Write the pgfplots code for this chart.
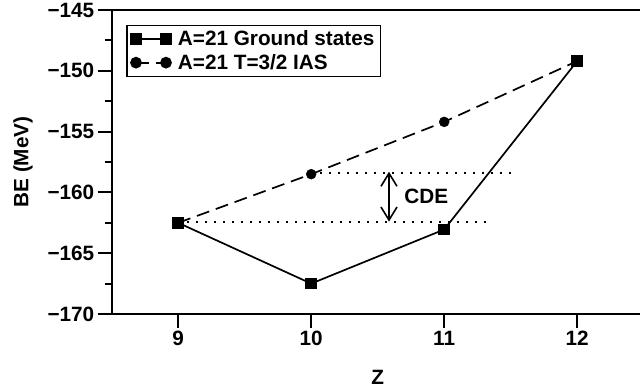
\documentclass[border=0pt]{standalone}
\usepackage{fontspec}
\setmainfont{Liberation Sans}
\usepackage{pgfplots}
\pgfplotsset{compat=1.18}
\usetikzlibrary{arrows.meta}
\newcommand{\bigf}{\bfseries\fontsize{20.8}{23}\selectfont}
\begin{document}
\begin{tikzpicture}
\begin{axis}[
  scale only axis, width=532bp, height=304bp,
  xmin=8.5, xmax=12.5, ymin=-170, ymax=-145,
  axis lines=left, axis line style={-, line width=2bp, black},
  clip=false,
  tick align=outside,
  major tick length=14bp, minor tick length=7bp,
  tick style={line width=2bp, black},
  xtick={9,10,11,12},
  xticklabels={9,10,11,12},
  ytick={-170,-165,-160,-155,-150,-145},
  yticklabels={−170,−165,−160,−155,−150,−145},
  minor y tick num=1,
  tick label style={font=\bigf},
  label style={font=\bigf},
  xlabel={Z}, ylabel={BE (MeV)},
  xlabel style={yshift=-17bp},
  ylabel style={yshift=8bp},
  legend style={at={(axis cs:8.609,-146.2)}, anchor=north west,
    draw=black, line width=1.6bp, font=\bigf,
    inner xsep=4bp, inner ysep=4bp, row sep=4bp, column sep=5bp,
    nodes={inner xsep=2bp, inner ysep=1.5bp}},
  legend cell align=left,
  legend image code/.code={\draw[mark repeat=1, mark phase=1, #1] plot coordinates {(0bp,0bp) (30bp,0bp)};},
]
% ground states
\addplot[black, line width=1.7bp, mark=square*, mark size=5bp, mark options={solid}]
  coordinates {(9,-162.5) (10,-167.5) (11,-163.05) (12,-149.2)};
\addlegendentry{A=21 Ground states}
% IAS
\addplot[black, line width=1.7bp, dash pattern=on 13bp off 7bp, forget plot]
  coordinates {(9,-162.5) (10,-158.5) (11,-154.2) (12,-149.2)};
\addplot[black, only marks, mark=*, mark size=5bp, forget plot]
  coordinates {(10,-158.5) (11,-154.2)};
\addlegendimage{black, line width=1.7bp, dash pattern=on 13bp off 7bp, mark=*, mark size=5bp, mark options={solid}}
\addlegendentry{A=21 T=3/2 IAS}
% dotted reference lines
\addplot[black, line width=1.8bp, dash pattern=on 1.8bp off 7.2bp, forget plot]
  coordinates {(10,-158.4) (11.54,-158.4)};
\addplot[black, line width=1.8bp, dash pattern=on 1.8bp off 7.2bp, forget plot]
  coordinates {(9,-162.45) (11.35,-162.45)};
\draw[line width=1.6bp, {Straight Barb[length=13bp,width=16bp]}-{Straight Barb[length=13bp,width=16bp]}]
  (axis cs:10.585,-158.3) -- (axis cs:10.585,-162.4);
\node[font=\bigf] at (axis cs:10.865,-160.35) {CDE};
\draw[line width=2bp] (rel axis cs:0,1) -- (rel axis cs:1,1);
\coordinate (O) at (rel axis cs:0,0);
\end{axis}
\pgfresetboundingbox
\useasboundingbox ([shift={(-111.7bp,-77bp)}]O) rectangle ([shift={(528.3bp,314bp)}]O);
\end{tikzpicture}
\end{document}
